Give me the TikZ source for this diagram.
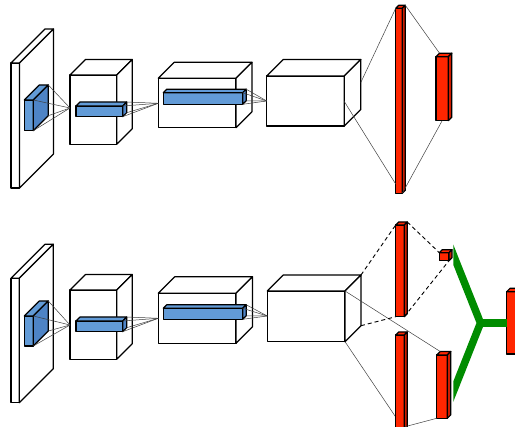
\documentclass[tikz,border=0pt]{standalone}
\usepackage{xcolor}
\usetikzlibrary{calc}

\definecolor{convblue}{RGB}{98,155,215}
\definecolor{convblueside}{RGB}{78,132,198}
\definecolor{fcred}{RGB}{255,38,0}
\definecolor{fcredside}{RGB}{205,28,0}
\definecolor{splitgreen}{RGB}{0,140,0}

\tikzset{
	edge/.style={draw=black, line width=1.2pt, line join=round},
	link/.style={draw=black!75, line width=0.5pt},
	dashlink/.style={draw=black, line width=0.9pt, dash pattern=on 4pt off 3pt},
	branch/.style={draw=splitgreen, line width=7.5pt, line join=miter},
}

% name, left, top, right, bottom, depth, front colour, side colour
\newcommand{\cuboid}[8]{
	\coordinate (#1-ftl) at (#2,#3);
	\coordinate (#1-ftr) at (#4,#3);
	\coordinate (#1-fbr) at (#4,#5);
	\coordinate (#1-fbl) at (#2,#5);
	\coordinate (#1-btl) at ($(#1-ftl)+(#6,-#6)$);
	\coordinate (#1-btr) at ($(#1-ftr)+(#6,-#6)$);
	\coordinate (#1-bbr) at ($(#1-fbr)+(#6,-#6)$);
	\path[edge, fill=#7] (#1-ftl) rectangle (#1-fbr);
	\path[edge, fill=#7] (#1-ftl) -- (#1-btl) -- (#1-btr) -- (#1-ftr) -- cycle;
	\path[edge, fill=#8] (#1-ftr) -- (#1-btr) -- (#1-bbr) -- (#1-fbr) -- cycle;
}

\begin{document}
\begin{tikzpicture}[x=1pt, y=-1pt]
	\clip (0,0) rectangle (515,427);
	\fill[white] (0,0) rectangle (515,427);

	% upper network
	\cuboid{inA}{11}{63}{19.5}{188}{34}{white}{white}
	\cuboid{kA}{24.3}{100}{33.3}{130.7}{15}{convblue}{convblueside}
	\cuboid{cA}{70}{75}{116.7}{144.3}{15.5}{white}{white}
	\cuboid{bA}{76}{106}{122.7}{116.7}{4}{convblue}{convblueside}
	\cuboid{dA}{158.3}{78.3}{236}{127.7}{16}{white}{white}
	\cuboid{eA}{163.3}{92.7}{242.7}{104.3}{3.5}{convblue}{convblueside}
	\cuboid{gA}{266.7}{76}{344.3}{126}{16.5}{white}{white}
	\cuboid{fA}{395.7}{8.3}{402.3}{193.3}{3}{fcred}{fcredside}
	\cuboid{hA}{436}{56.7}{448.3}{120.7}{3.5}{fcred}{fcredside}

	\coordinate (pA1) at (70,108);
	\coordinate (pA2) at (158.3,103.3);
	\coordinate (pA3) at (266.7,101);
	\coordinate (gA-out1) at ($(gA-btr)!0.46!(gA-bbr)$);
	\coordinate (gA-out2) at ($(gA-ftr)!0.51!(gA-fbr)$);
	\coordinate (fA-in2) at ($(fA-ftl)!0.95!(fA-fbl)$);
	\coordinate (hA-in2) at ($(hA-fbl)!0.5!(hA-fbr)$);

	\foreach \c in {ftr,btr,bbr,fbr} {
		\draw[link] (kA-\c) -- (pA1);
		\draw[link] (bA-\c) -- (pA2);
		\draw[link] (eA-\c) -- (pA3);
	}
	\draw[link] (gA-out1) -- (fA-ftl);
	\draw[link] (gA-out2) -- (fA-in2);
	\draw[link] (fA-btr) -- (hA-btl);
	\draw[link] (fA-fbr) -- (hA-in2);

	% lower network
	\cuboid{inB}{11}{278.3}{19.3}{402.7}{34}{white}{white}
	\cuboid{kB}{24.3}{316}{33.3}{346}{15}{convblue}{convblueside}
	\cuboid{cB}{70}{290}{116.7}{359.3}{15.5}{white}{white}
	\cuboid{bB}{76}{321}{122.7}{331.7}{4}{convblue}{convblueside}
	\cuboid{dB}{158.3}{293.3}{236}{343.3}{16.5}{white}{white}
	\cuboid{eB}{163.3}{308.3}{242.7}{319.3}{3.5}{convblue}{convblueside}
	\cuboid{gB}{267.3}{291}{345}{341.7}{16}{white}{white}

	\coordinate (pB1) at (70,325);
	\coordinate (pB2) at (158.3,318.3);
	\coordinate (pB3) at (267.3,316);

	\foreach \c in {ftr,btr,bbr,fbr} {
		\draw[link] (kB-\c) -- (pB1);
		\draw[link] (bB-\c) -- (pB2);
		\draw[link] (eB-\c) -- (pB3);
	}

	\cuboid{hC}{436.7}{355}{447.3}{418.3}{3.5}{fcred}{fcredside}
	\draw[link] (gB-ftr) -- (hC-btl);
	\coordinate (fC-in) at (395.5,416.7);
	\draw[link] (gB-fbr) -- (fC-in);

	\cuboid{fB}{395.7}{225}{404.3}{316.7}{3}{fcred}{fcredside}
	\cuboid{hB}{439.3}{252.7}{449}{260.7}{3}{fcred}{fcredside}
	\cuboid{fC}{395.7}{335}{404.3}{432}{3}{fcred}{fcredside}
	\cuboid{oB}{506.7}{291.7}{525}{354}{3.5}{fcred}{fcredside}

	\coordinate (fC-out) at (405,426.7);
	\draw[link] (fC-out) -- (hC-fbl);

	\draw[dashlink] (gB-btr) -- (fB-ftl);
	\draw[dashlink] (gB-bbr) -- (fB-fbl);
	\draw[dashlink] (fB-btr) -- (hB-ftl);
	\draw[dashlink] (fB-fbr) -- (hB-fbr);

	% merge
	\coordinate (jB) at (480.5,323);
	\begin{scope}
		\clip (453.3,0) rectangle (515,427);
		\draw[branch] (446,236.4) -- (jB) -- (446,410);
		\draw[branch] (jB) -- (oB-ftl |- jB);
	\end{scope}
\end{tikzpicture}
\end{document}
